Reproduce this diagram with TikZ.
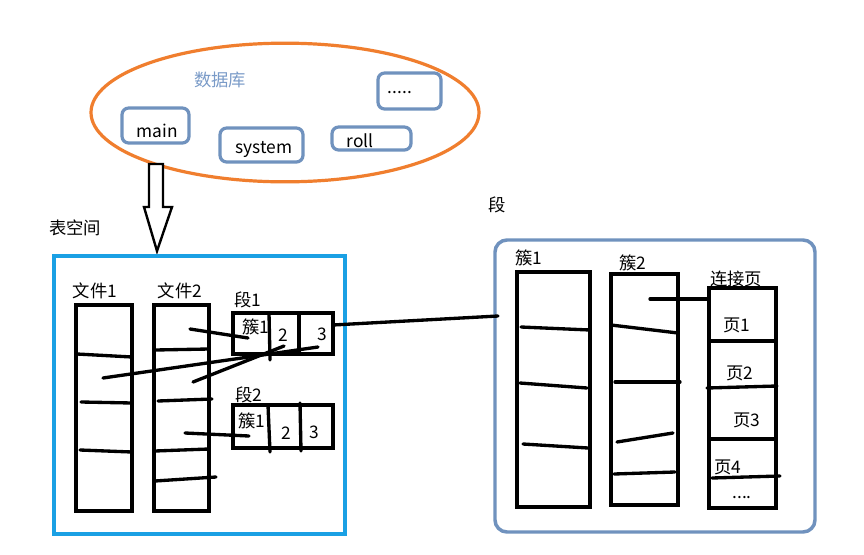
\documentclass[tikz,border=0pt]{standalone}
\usepackage{fontspec}
\setmainfont{Noto Sans CJK SC}
\usetikzlibrary{positioning,fit,shapes.geometric}
\definecolor{dborange}{HTML}{F07E2E}
\definecolor{grayblue}{HTML}{7092BE}
\definecolor{tsblue}{HTML}{1AA0E4}
\definecolor{dbtext}{HTML}{7A9BC8}

\begin{document}
\begin{tikzpicture}[x=0.75pt,y=-0.75pt,
    every node/.style={font=\fontsize{13}{15}\selectfont},
    dbbox/.style={draw=grayblue, line width=2.4pt, rounded corners=5pt, inner sep=0pt},
    filebox/.style={draw, line width=2.7pt, inner sep=0pt},
    stroke/.style={line width=2.5pt, line cap=round},
    link/.style={line width=2.5pt, line cap=round},
    lbl/.style={inner sep=1pt}
  ]
  \useasboundingbox[fill=white] (0,0) rectangle (864,554);

  % Database
  \node[draw=dborange, line width=2.4pt, ellipse, minimum width=291pt, minimum height=104pt] (db) at (285,112.5) {};
  \node[lbl, text=dbtext] (dbname) at (220,80) {数据库};
  \node[dbbox, fit={(122,108) (189,143)}] (mainbox) {};
  \node[lbl] at (157,131) {main};
  \node[dbbox, fit={(220,128) (303,162)}] (sysbox) {};
  \node[lbl] at (264,149) {system};
  \node[dbbox, fit={(332,127) (411,150)}] (rollbox) {};
  \node[lbl] at (360,141) {roll};
  \node[dbbox, fit={(378,73) (441,109)}] (morebox) {};
  \node[lbl] at (400,93) {.....};

  % Hollow arrow down to the tablespace
  \draw[line width=1.8pt, fill=white] (149,164) -- (163,164) -- (163,207) -- (172,207)
    -- (157,251) -- (144,207) -- (149,207) -- cycle;

  % Tablespace
  \node[lbl] (tsname) at (75,228) {表空间};
  \node[draw=tsblue, line width=2.6pt, inner sep=0pt, fit={(54,256) (345,534)}] (ts) {};

  % Files
  \node[filebox, fit={(76,305) (132,511)}] (file1) {};
  \node[lbl] at (95,291) {文件1};
  \draw[stroke] (77,354) -- (132,357);
  \draw[stroke] (81,402) -- (132,403);
  \draw[stroke] (80,450) -- (132,452);

  \node[filebox, fit={(154,305) (209,511)}] (file2) {};
  \node[lbl] at (180,291) {文件2};
  \draw[stroke] (155,350) -- (209,349);
  \draw[stroke] (158,401) -- (212,399);
  \draw[stroke] (155,451) -- (209,449);
  \draw[stroke] (155,481) -- (216,477);

  % Segment 1
  \node[filebox, fit={(233,313) (333,354)}] (seg1) {};
  \node[lbl] at (248,300) {段1};
  \draw[stroke] (269,313) -- (270,360);
  \draw[stroke] (299,313) -- (299,354);
  \node[lbl] (s1c1) at (256,327) {簇1};
  \node[lbl] (s1c2) at (283,335) {2};
  \node[lbl] (s1c3) at (322,334) {3};

  % Segment 2
  \node[filebox, fit={(233,405) (333,448)}] (seg2) {};
  \node[lbl] at (249,395) {段2};
  \draw[stroke] (268,405) -- (270,452);
  \draw[stroke] (300,403) -- (301,451);
  \node[lbl] (s2c1) at (252,421) {簇1};
  \node[lbl] (s2c2) at (286,433) {2};
  \node[lbl] (s2c3) at (314,432) {3};

  % Extents to clusters
  \coordinate (f2top) at (190,329);
  \coordinate (s1c1in) at (248,338);
  \coordinate (f1mid) at (103,378);
  \coordinate (s1c3in) at (318,347);
  \coordinate (f2mid) at (193,382);
  \coordinate (s1c2in) at (284,346);
  \coordinate (f2low) at (185,433);
  \coordinate (s2c1in) at (249,436);
  \draw[link] (f2top) -- (s1c1in);
  \draw[link] (f1mid) -- (s1c3in);
  \draw[link] (f2mid) -- (s1c2in);
  \draw[link] (f2low) -- (s2c1in);

  % Segment detail
  \node[lbl] (segname) at (497,205) {段};
  \node[draw=grayblue, line width=2.6pt, rounded corners=9pt, inner sep=0pt, fit={(495,240) (815,532)}] (segbox) {};
  \coordinate (seg1out) at (333,325);
  \coordinate (segin) at (498,316);
  \draw[link] (seg1out) -- (segin);

  % Cluster 1
  \node[filebox, fit={(517,272) (590,507)}] (clu1) {};
  \node[lbl] at (529,258) {簇1};
  \draw[stroke] (521,327) -- (590,330);
  \draw[stroke] (520,383) -- (587,388);
  \draw[stroke] (523,444) -- (588,448);

  % Cluster 2
  \node[filebox, fit={(611,274) (678,505)}] (clu2) {};
  \node[lbl] at (633,263) {簇2};
  \draw[stroke] (611,325) -- (678,333);
  \draw[stroke] (615,382) -- (680,382);
  \draw[stroke] (617,442) -- (673,433);
  \draw[stroke] (614,474) -- (675,472);

  % Link pages
  \node[filebox, fit={(709,288) (776,508)}] (pages) {};
  \node[lbl] at (736,279) {连接页};
  \draw[stroke] (709,341) -- (776,341);
  \draw[stroke] (707,388) -- (777,386);
  \draw[stroke] (709,439) -- (776,439);
  \draw[stroke] (712,478) -- (780,476);
  \node[lbl] (p1) at (737,325) {页1};
  \node[lbl] (p2) at (740,373) {页2};
  \node[lbl] (p3) at (747,420) {页3};
  \node[lbl] (p4) at (728,467) {页4};
  \node[lbl] (pmore) at (742,498) {....};
  \coordinate (clu2in) at (650,299);
  \draw[link] (clu2in) -- (pages.west |- clu2in);
\end{tikzpicture}
\end{document}
